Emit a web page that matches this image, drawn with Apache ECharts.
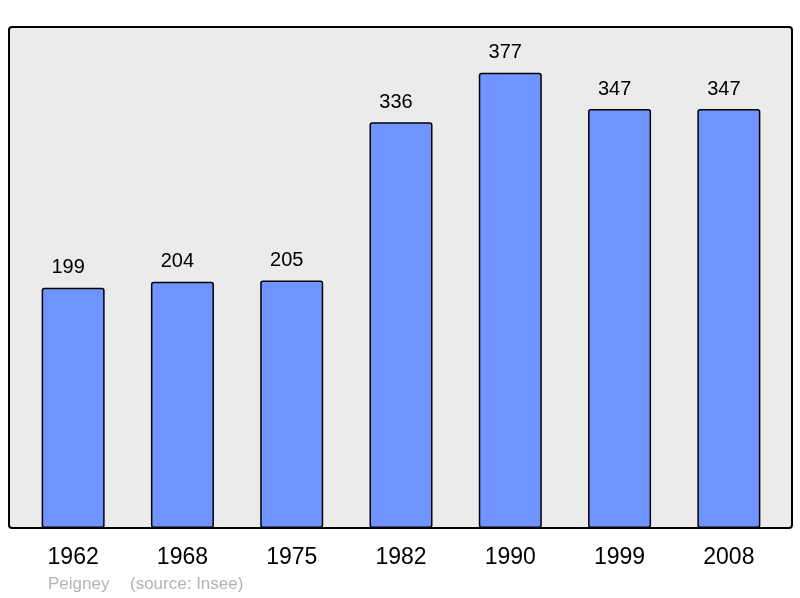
<!DOCTYPE html>
<html>
<head>
<meta charset="utf-8">
<script src="https://cdn.jsdelivr.net/npm/echarts@6/dist/echarts.min.js"></script>
<style>
  html, body { margin: 0; padding: 0; background: #fff; }
  #chart { width: 800px; height: 598px; }
</style>
</head>
<body>
<div id="chart"></div>
<script>
const years = ['1962', '1968', '1975', '1982', '1990', '1999', '2008'];
const population = [199, 204, 205, 336, 377, 347, 347];
const townName = 'Peigney';
const sourceText = '(source: Insee)';

const chart = echarts.init(document.getElementById('chart'));
const font = 'Liberation Sans, Arial, sans-serif';

chart.setOption({
    animation: false,
    textStyle: { fontFamily: font },
    graphic: [
        {
            type: 'rect',
            z: -10,
            shape: { x: 9, y: 27, width: 783, height: 501, r: 3 },
            style: { fill: '#ebebeb', stroke: '#000', lineWidth: 2 }
        },
        {
            type: 'text',
            left: 48,
            top: 576,
            style: { text: townName, fill: '#b3b3b3', font: '17px ' + font }
        },
        {
            type: 'text',
            left: 130,
            top: 576,
            style: { text: sourceText, fill: '#b3b3b3', font: '17px ' + font }
        }
    ],
    grid: { left: 18.5, right: 16.5, top: 27, bottom: 70 },
    xAxis: {
        type: 'category',
        data: years,
        axisLine: { show: false },
        axisTick: { show: false },
        axisLabel: { color: '#000', fontSize: 23, margin: 18 }
    },
    yAxis: {
        type: 'value',
        min: 0,
        max: 415,
        show: false
    },
    series: [{
        type: 'bar',
        data: population,
        barWidth: 63,
        itemStyle: { color: '#7094ff', borderColor: '#000', borderWidth: 1.5, borderRadius: 2 },
        label: {
            show: true,
            position: 'top',
            distance: 10,
            offset: [-5, 0],
            color: '#000',
            fontSize: 20
        }
    }]
});
</script>
</body>
</html>
